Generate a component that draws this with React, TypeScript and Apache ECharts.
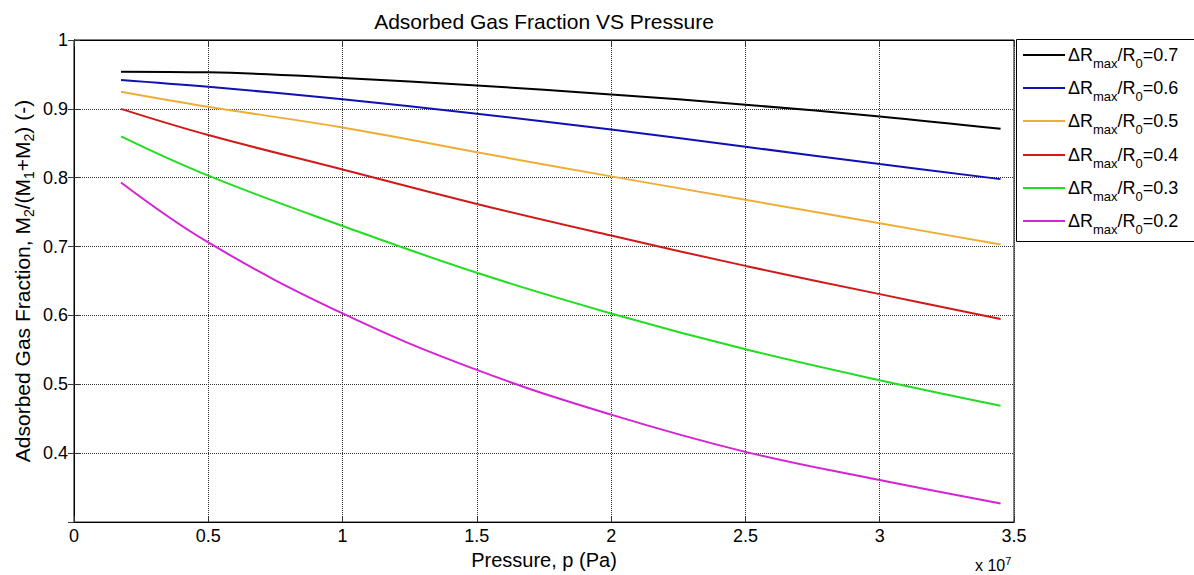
import React, { useEffect, useRef } from "react";
import * as echarts from "echarts";

// Pressure sample points (Pa)
const PRESSURE_PA = [1.75e6, 5e6, 1e7, 1.5e7, 2e7, 2.5e7, 3e7, 3.45e7];

// Adsorbed gas fraction for each ΔRmax/R0
const RATIOS = ["0.7", "0.6", "0.5", "0.4", "0.3", "0.2"];
const FRACTION_07 = [0.954, 0.953, 0.945, 0.934, 0.921, 0.906, 0.889, 0.871];
const FRACTION_06 = [0.942, 0.932, 0.914, 0.893, 0.87, 0.845, 0.82, 0.798];
const FRACTION_05 = [0.925, 0.903, 0.873, 0.837, 0.802, 0.768, 0.734, 0.703];
const FRACTION_04 = [0.9, 0.862, 0.812, 0.762, 0.716, 0.672, 0.631, 0.595];
const FRACTION_03 = [0.86, 0.803, 0.73, 0.662, 0.603, 0.551, 0.506, 0.469];
const FRACTION_02 = [0.793, 0.706, 0.603, 0.521, 0.456, 0.402, 0.361, 0.327];
const SERIES_VALUES = [FRACTION_07, FRACTION_06, FRACTION_05, FRACTION_04, FRACTION_03, FRACTION_02];
const COLORS = ["#000000", "#1010b4", "#eeae35", "#d01a1a", "#22dd22", "#d424d4"];

const X_MIN = 0;
const X_MAX = 3.5e7;
const X_INTERVAL = 0.5e7;
const Y_MIN = 0.3;
const Y_MAX = 1;
const Y_INTERVAL = 0.1;

const FONT = "'Liberation Sans', Arial, Helvetica, sans-serif";

const LEGEND_TOP = 55;
const LEGEND_STEP = 33.2;

export default function App() {
  const ref = useRef<HTMLDivElement>(null);

  useEffect(() => {
    if (!ref.current) return;
    const chart = echarts.init(ref.current, undefined, { renderer: "svg" });

    const names = RATIOS.map((r) => `ΔRmax/R0=${r}`);

    const series = SERIES_VALUES.map((vals, i) => ({
      name: names[i],
      type: "line",
      xAxisIndex: 0,
      yAxisIndex: 0,
      symbol: "none",
      smooth: 0.4,
      lineStyle: { width: 2, color: COLORS[i] },
      itemStyle: { color: COLORS[i] },
      data: vals.map((v, j) => [PRESSURE_PA[j], v]),
    }));

    const tickStyle = { show: true, inside: true, length: 6, lineStyle: { color: "#333", width: 1 } };
    const gridLine = { show: true, lineStyle: { type: "dotted", color: "#333", width: 1 } };

    // one legend entry per row so that each row sits exactly at its own height
    const legends = names.map((name, i) => ({
      orient: "vertical",
      left: 1023,
      top: Math.round(LEGEND_TOP + i * LEGEND_STEP - 7),
      itemWidth: 42,
      itemHeight: 14,
      padding: 0,
      icon: "path://M0,6 L42,6 L42,8 L0,8 Z",
      formatter: () => "",
      textStyle: { fontSize: 8, color: "#000" },
      data: [name],
    }));

    const legendRich = {
      n: { fontSize: 18, fontFamily: FONT, fill: "#000", lineHeight: 30, verticalAlign: "middle" },
      s: { fontSize: 13, fontFamily: FONT, fill: "#000", lineHeight: 12, verticalAlign: "bottom" },
    };

    const legendTexts = RATIOS.map((r, i) => ({
      type: "text",
      x: 1068,
      y: LEGEND_TOP + i * LEGEND_STEP,
      z: 10,
      style: {
        text: `{n|ΔR}{s|max}{n|/R}{s|0}{n|=${r}}`,
        align: "left",
        verticalAlign: "middle",
        rich: legendRich,
      },
    }));

    chart.setOption({
      animation: false,
      backgroundColor: "#ffffff",
      textStyle: { fontFamily: FONT },
      title: {
        text: "Adsorbed Gas Fraction VS Pressure",
        left: 539,
        textAlign: "center",
        top: 6,
        textStyle: { fontSize: 21, fontWeight: "normal", color: "#000", fontFamily: FONT },
      },
      grid: {
        left: 74,
        top: 40,
        width: 940,
        height: 483,
        show: true,
        borderColor: "#000",
        borderWidth: 1,
        backgroundColor: "transparent",
        containLabel: false,
      },
      legend: legends,
      xAxis: [
        {
          type: "value",
          position: "bottom",
          min: X_MIN,
          max: X_MAX,
          interval: X_INTERVAL,
          name: "Pressure, p (Pa)",
          nameLocation: "middle",
          nameGap: 27,
          nameTextStyle: { fontSize: 20, color: "#000", fontFamily: FONT },
          axisLine: { show: true, lineStyle: { color: "#000", width: 1 } },
          axisTick: tickStyle,
          axisLabel: {
            fontSize: 18,
            color: "#000",
            margin: 5,
            fontFamily: FONT,
            formatter: (v: number) => String(Math.round((v / 1e7) * 10) / 10),
          },
          splitLine: gridLine,
        },
        {
          type: "value",
          position: "top",
          min: X_MIN,
          max: X_MAX,
          interval: X_INTERVAL,
          axisLine: { show: true, lineStyle: { color: "#000", width: 1 } },
          axisTick: tickStyle,
          axisLabel: { show: false },
          splitLine: { show: false },
        },
      ],
      yAxis: [
        {
          type: "value",
          position: "left",
          min: Y_MIN,
          max: Y_MAX,
          interval: Y_INTERVAL,
          axisLine: { show: true, lineStyle: { color: "#000", width: 1 } },
          axisTick: tickStyle,
          axisLabel: {
            fontSize: 18,
            color: "#000",
            margin: 6,
            fontFamily: FONT,
            showMinLabel: false,
            formatter: (v: number) => String(Math.round(v * 10) / 10),
          },
          splitLine: gridLine,
        },
        {
          type: "value",
          position: "right",
          min: Y_MIN,
          max: Y_MAX,
          interval: Y_INTERVAL,
          axisLine: { show: true, lineStyle: { color: "#000", width: 1 } },
          axisTick: tickStyle,
          axisLabel: { show: false },
          splitLine: { show: false },
        },
      ],
      graphic: [
        {
          type: "rect",
          left: 1016,
          top: 39,
          shape: { width: 200, height: 202 },
          style: { fill: "#fff", stroke: "#000", lineWidth: 1 },
          z: -1,
        },
        ...legendTexts,
        {
          type: "text",
          x: 22,
          y: 281,
          rotation: Math.PI / 2,
          style: {
            text: "{n|Adsorbed Gas Fraction, M}{s|2}{n|/(M}{s|1}{n|+M}{s|2}{n|) (-)}",
            align: "center",
            verticalAlign: "middle",
            rich: {
              n: { fontSize: 21, fontFamily: FONT, fill: "#000", lineHeight: 28, verticalAlign: "middle" },
              s: { fontSize: 14, fontFamily: FONT, fill: "#000", lineHeight: 12, verticalAlign: "bottom" },
            },
          },
        },
        {
          type: "text",
          left: 975,
          top: 555,
          style: {
            text: "{a|x 10}{b|7}",
            rich: {
              a: { fontSize: 16, fontFamily: FONT, fill: "#000", lineHeight: 20, verticalAlign: "middle" },
              b: { fontSize: 11, fontFamily: FONT, fill: "#000", lineHeight: 10, verticalAlign: "top" },
            },
          },
        },
      ],
      series,
    });

    return () => chart.dispose();
  }, []);

  return (
    <div
      ref={ref}
      style={{ position: "fixed", left: 0, top: 0, width: 1194, height: 575, background: "#fff" }}
    />
  );
}
